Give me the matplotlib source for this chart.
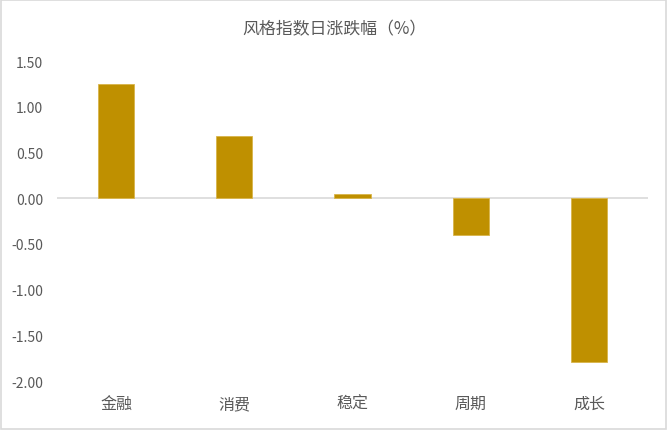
import matplotlib
matplotlib.use('Agg')
import matplotlib.pyplot as plt
from matplotlib.patches import Rectangle

plt.rcParams['font.family'] = ['Noto Sans CJK SC', 'DejaVu Sans']

# Data
categories = ['金融', '消费', '稳定', '周期', '成长']
values = [1.25, 0.68, 0.04, -0.40, -1.79]
yticks = [1.5, 1.0, 0.5, 0.0, -0.5, -1.0, -1.5, -2.0]
title_name = '风格指数日涨跌幅（%）'

bar_color = '#BF9000'
text_color = '#595959'

fig = plt.figure(figsize=(6.68, 4.31), dpi=100)
ax = fig.add_axes([57/668, 1-382/431, (648-57)/668, (382-62)/431])

x = list(range(len(categories)))
ax.bar(x, values, width=0.305, color=bar_color, edgecolor='#D9B54A', linewidth=0.6, zorder=3)
ax.axhline(0, color='#D9D9D9', linewidth=1.2, zorder=2)

ax.set_xlim(-0.5, len(categories)-0.5)
ax.set_ylim(-2.0, 1.5)
ax.set_yticks(yticks)
ax.set_yticklabels(['%.2f' % v for v in yticks], color=text_color, fontsize=10)
ax.set_xticks(x)
ax.set_xticklabels(categories, color=text_color, fontsize=11.5)
ax.tick_params(axis='both', length=0)
ax.tick_params(axis='y', pad=10)
ax.tick_params(axis='x', pad=10)
for s in ax.spines.values():
    s.set_visible(False)

fig.text(0.5, 1-29/431, title_name, ha='center', va='center', fontsize=12.2, color=text_color)

# chart border
fig.patches.append(Rectangle((0.002, 0.003), 0.995, 0.994, transform=fig.transFigure,
                             fill=False, edgecolor='#D9D9D9', linewidth=1.2))

fig.savefig('out.png', dpi=100)
